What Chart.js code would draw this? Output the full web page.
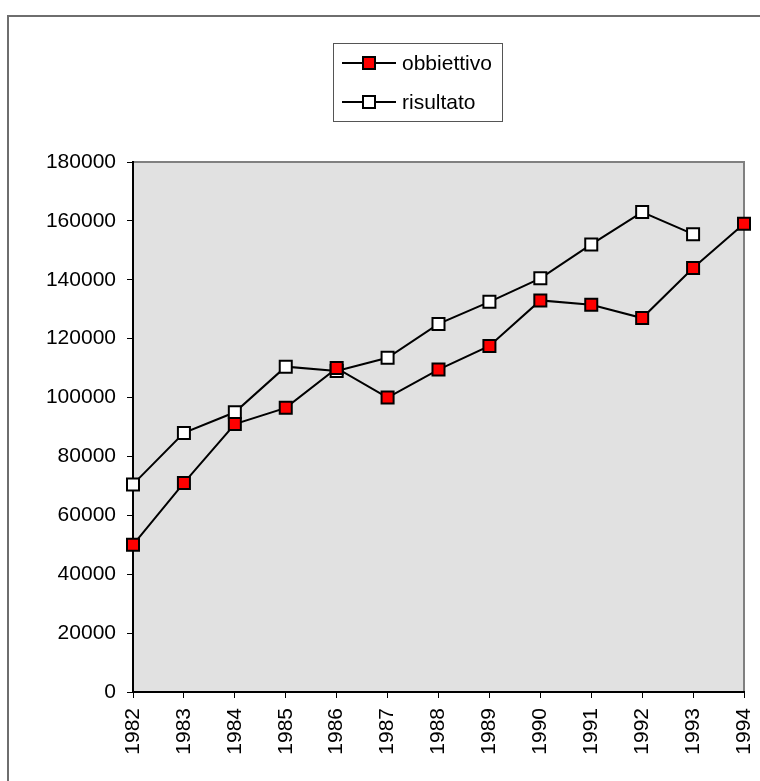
<!DOCTYPE html>
<html>

<head>
    <meta charset="utf-8">
    <title>obbiettivo / risultato</title>
    <style>
        html, body { margin: 0; padding: 0; background: #fff; overflow: hidden; }
        #frame { position: absolute; left: 7px; top: 15px; width: 800px; height: 800px; border-left: 2px solid #6e6e6e; border-top: 2px solid #6e6e6e; }
        #wrap { position: absolute; left: 0; top: 0; width: 760px; height: 781px; }
    </style>
</head>

<body>
    <div id="frame"></div>
    <div id="wrap"><canvas id="myChart1" width="760" height="781"></canvas></div>
    <script src="https://cdn.jsdelivr.net/npm/chart.js@4.4.6/dist/chart.umd.min.js"></script>
    <script>
        const years = ["1982", "1983", "1984", "1985", "1986", "1987", "1988", "1989", "1990", "1991", "1992", "1993", "1994"]
        const obbiettivo = [50000, 71000, 91000, 96500, 110000, 100000, 109500, 117500, 133000, 131500, 127000, 144000, 159000]
        const risultato = [70500, 88000, 95000, 110500, 109000, 113500, 125000, 132500, 140500, 152000, 163000, 155500, null]
        const yTicks = { min: 0, max: 180000, step: 20000 }

        const FONT = "'Liberation Sans', Arial, sans-serif"

        // grey plot background with thin frame on top/right
        const plotBg = {
            id: "plotBg",
            beforeDraw(chart) {
                const { ctx, chartArea: a } = chart
                ctx.save()
                ctx.fillStyle = "#e1e1e1"
                ctx.fillRect(a.left, a.top, a.right - a.left, a.bottom - a.top)
                ctx.strokeStyle = "#808080"
                ctx.lineWidth = 2
                ctx.beginPath()
                ctx.moveTo(a.left, a.top)
                ctx.lineTo(a.right, a.top)
                ctx.lineTo(a.right, a.bottom)
                ctx.stroke()
                ctx.restore()
            },
        }

        // legend: line + marker sample in a bordered box
        const boxLegend = {
            id: "boxLegend",
            afterDraw(chart) {
                const { ctx } = chart
                ctx.save()
                ctx.strokeStyle = "#555"
                ctx.lineWidth = 1
                ctx.strokeRect(333.5, 43.5, 169, 78)
                ctx.font = "21px " + FONT
                ctx.textBaseline = "middle"
                chart.data.datasets.forEach((ds, i) => {
                    const y = 63 + i * 39
                    ctx.strokeStyle = "#000"
                    ctx.lineWidth = 2
                    ctx.beginPath()
                    ctx.moveTo(342, y)
                    ctx.lineTo(396, y)
                    ctx.stroke()
                    ctx.fillStyle = ds.pointBackgroundColor
                    ctx.fillRect(363, y - 6, 12, 12)
                    ctx.strokeRect(363, y - 6, 12, 12)
                    ctx.fillStyle = "#000"
                    ctx.fillText(ds.label, 402, y + 1)
                })
                ctx.restore()
            },
        }

        const element = document.getElementById("myChart1")
        const config = {
            type: "line",
            data: {
                labels: years,
                datasets: [{
                    label: "obbiettivo",
                    data: obbiettivo,
                    borderColor: "#000",
                    borderWidth: 2,
                    pointStyle: "rect",
                    pointRadius: 8.5,
                    pointBorderWidth: 2,
                    pointBorderColor: "#000",
                    pointBackgroundColor: "#ff0000",
                    tension: 0,
                }, {
                    label: "risultato",
                    data: risultato,
                    borderColor: "#000",
                    borderWidth: 2,
                    pointStyle: "rect",
                    pointRadius: 8.5,
                    pointBorderWidth: 2,
                    pointBorderColor: "#000",
                    pointBackgroundColor: "#ffffff",
                    tension: 0,
                }],
            },
            options: {
                responsive: false,
                animation: false,
                layout: { padding: { left: 0, top: 162, right: 16, bottom: 0 } },
                plugins: {
                    legend: { display: false },
                    tooltip: { enabled: false },
                },
                scales: {
                    x: {
                        offset: false,
                        grid: { drawOnChartArea: false, tickLength: 6, color: "#000", lineWidth: 1 },
                        border: { color: "#000", width: 2 },
                        ticks: { font: { family: FONT, size: 21 }, color: "#000", maxRotation: 90, minRotation: 90, padding: 10, autoSkip: false },
                        afterFit(scale) {
                            scale.height = 89
                            scale.paddingLeft = 0
                            scale.paddingRight = 0
                        },
                    },
                    y: {
                        min: yTicks.min,
                        max: yTicks.max,
                        grid: { drawOnChartArea: false, tickLength: 6, color: "#000", lineWidth: 1 },
                        border: { color: "#000", width: 2 },
                        ticks: {
                            stepSize: yTicks.step,
                            font: { family: FONT, size: 21 },
                            color: "#000",
                            padding: 11,
                            callback: v => String(v),
                        },
                        afterFit(scale) {
                            scale.width = 133
                            scale.paddingTop = 0
                            scale.paddingBottom = 0
                        },
                    },
                },
            },
            plugins: [plotBg, boxLegend],
        }
        const chart = new Chart(element, config)
    </script>
</body>

</html>
